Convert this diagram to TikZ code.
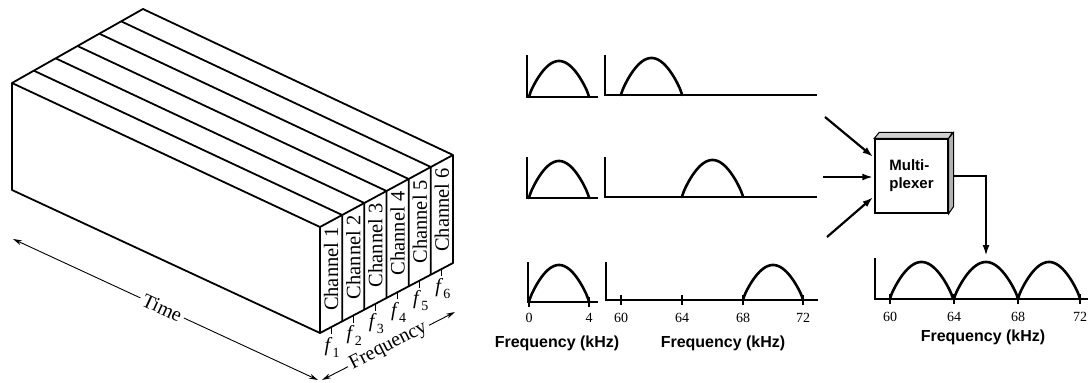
\documentclass[tikz,border=0pt]{standalone}
\usepackage{fontspec}
\setmainfont{Liberation Serif}
\newfontfamily\labelsans{Liberation Sans}
\usetikzlibrary{calc,arrows.meta}

% italic f with an upright subscript digit
\newcommand{\fsub}[1]{\textit{f}\kern0.3pt\raisebox{-0.3em}{\fontsize{14}{14}\selectfont #1}}
% one spectral lobe: #1 start x, #2 width, #3 baseline y, #4 height
\newcommand{\lobe}[4]{%
  \draw[signal] (#1,#3) -- plot[domain=0.004:0.996,samples=51,smooth]
    ({#1+#2*\x},{#3-#4*(sin(180*\x))^0.8}) -- ({#1+#2},#3);}

\tikzset{
  box/.style={line width=1.8pt, line join=round},
  chan/.style={font=\fontsize{20.5}{20.5}\selectfont, inner sep=0pt},
  flabel/.style={font=\fontsize{20}{20}\selectfont, inner sep=0pt},
  dimlabel/.style={font=\fontsize{20}{20}\selectfont, inner sep=3pt},
  dimarrow/.style={line width=0.9pt, -{Stealth[length=9pt,width=5pt]}},
  chtick/.style={line width=0.9pt},
  axis/.style={line width=1.4pt},
  signal/.style={line width=2.6pt, line cap=round, line join=round},
  axtick/.style={line width=1.1pt},
  num/.style={font=\fontsize{14}{14}\selectfont, inner sep=0pt},
  freqlbl/.style={font=\labelsans\bfseries\fontsize{16}{16}\selectfont, inner sep=0pt},
  muxbox/.style={draw, line width=1.4pt, fill=white, minimum width=73pt,
    minimum height=74pt, align=left, inner sep=0pt,
    font=\labelsans\bfseries\fontsize{15}{18}\selectfont},
  feed/.style={line width=2.2pt, -{Latex[length=11pt,width=7pt]}}
}

\begin{document}
\begin{tikzpicture}[x=1pt,y=-1pt]
\useasboundingbox[fill=white] (0,0) rectangle (1088,383);

% ---------- time/frequency block ----------
\coordinate (FTL) at (12,83);
\coordinate (BTL) at (143,9);
\coordinate (FBL) at (12,190);
\coordinate (ETL) at (320,227);
\coordinate (ETR) at (453,155);
\coordinate (EBL) at (320,333);
\coordinate (EBR) at (453,263);

\draw[box] (FTL) -- (BTL) -- (ETR) -- (EBR) -- (EBL) -- (FBL) -- cycle;
\draw[box] (FTL) -- (ETL) -- (EBL);
\draw[box] (ETL) -- (ETR);
\foreach \i in {1,...,5} {
  \draw[box] ($(FTL)!\i/6!(BTL)$) -- ($(ETL)!\i/6!(ETR)$) -- ($(EBL)!\i/6!(EBR)$);
}
\foreach \i in {1,...,6} {
  \pgfmathsetmacro\t{(\i-0.5)/6}
  \coordinate (top\i) at ($(ETL)!\t!(ETR)$);
  \coordinate (bot\i) at ($(EBL)!\t!(EBR)$);
  \node[chan, rotate=90] (ch\i) at ($($(top\i)!0.5!(bot\i)$)+(0,-5)$) {Channel \i};
  \draw[chtick] (bot\i) -- ++(0,7);
  \node[flabel] (f\i) at ($(bot\i)+(1,20)$) {\fsub{\i}};
}

% time axis
\coordinate (timeA) at (13,239);
\coordinate (timeB) at (318,380);
\node[dimlabel, rotate=-25] (timeL) at ($(timeA)!0.489!(timeB)$) {Time};
\draw[dimarrow] (timeL) -- (timeA);
\draw[dimarrow] (timeL) -- (timeB);

% frequency axis
\coordinate (freqA) at (322,380);
\coordinate (freqB) at (455,312);
\node[dimlabel, rotate=27] (freqL) at ($(freqA)!0.5!(freqB)$) {Frequency};
\draw[dimarrow] (freqL) -- (freqA);
\draw[dimarrow] (freqL) -- (freqB);

% ---------- baseband spectra ----------
\draw[axis] (527,55) -- (527,97) -- (598,97);
\lobe{529}{60}{97}{36}
\draw[axis] (527,157) -- (527,198) -- (598,198);
\lobe{529}{60}{198}{37}
\draw[axis] (528,262) -- (528,302) -- (598,302);
\lobe{529}{60}{302}{37}
\draw[axtick] (529,297) -- (529,307);
\draw[axtick] (589,297) -- (589,307);
\node[num] (n0) at (529,318) {0};
\node[num] (n4) at (589,318) {4};
\node[freqlbl] (fk1) at (557,343) {Frequency (kHz)};

% ---------- shifted spectra ----------
\draw[axis] (605,55) -- (605,95) -- (817,95);
\lobe{621}{61}{95}{37}
\draw[axis] (605,157) -- (605,197) -- (817,197);
\lobe{682}{61}{197}{37}
\draw[axis] (606,262) -- (606,300) -- (818,300);
\lobe{743}{60}{300}{35}
\foreach \xx/\lab in {621/60,682/64,743/68,803/72} {
  \draw[axtick] (\xx,295) -- (\xx,305);
  \node[num] (m\lab) at (\xx,318) {\lab};
}
\node[freqlbl] (fk2) at (723,343) {Frequency (kHz)};

% ---------- multiplexer ----------
\node[muxbox] (mux) at (911.5,176) {Multi-\\plexer};
\fill[gray!35, draw=black, line width=1pt] (mux.north west) -- ++(5,-6) -- ++(73,0) -- (mux.north east) -- cycle;
\fill[gray!60, draw=black, line width=1pt] (mux.north east) -- ++(5,-6) -- ++(0,74) -- (mux.south east) -- cycle;

\coordinate (in1) at (825,117);
\coordinate (in2) at (823,177);
\coordinate (in3) at (827,237);
\draw[feed] (in1) -- ($(mux.west)+(-1,-19)$);
\draw[feed] (in2) -- ($(mux.west)+(-1,1)$);
\draw[feed] (in3) -- ($(mux.west)+(-1,21)$);

\coordinate (outtip) at (986,256);
\draw[feed] ($(mux.east)+(5,0)$) -| (outtip);

% ---------- multiplexed spectrum ----------
\draw[axis] (875,258) -- (875,299) -- (1088,299);
\lobe{890}{63}{299}{37}
\lobe{954}{64}{299}{37}
\lobe{1018}{62}{299}{37}
\foreach \xx/\lab in {890/60,954/64,1018/68,1080/72} {
  \draw[axtick] (\xx,294) -- (\xx,304);
  \node[num] (k\lab) at (\xx,317) {\lab};
}
\node[freqlbl] (fk3) at (983,337) {Frequency (kHz)};
\end{tikzpicture}
\end{document}
